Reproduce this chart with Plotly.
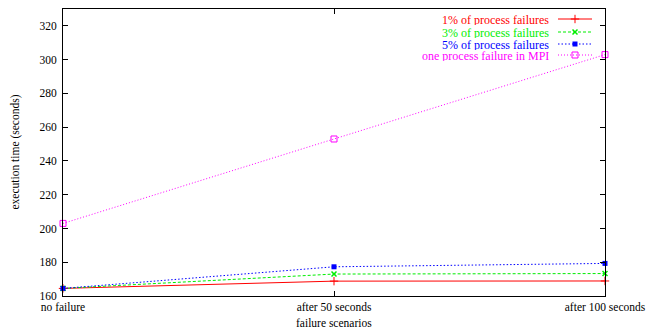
import plotly.graph_objects as go

categories = ["no failure", "after 50 seconds", "after 100 seconds"]
series_names = ["1% of process failures", "3% of process failures",
                "5% of process failures", "one process failure in MPI"]
pct1 = [164.5, 168.8, 168.9]
pct3 = [164.5, 173.0, 173.3]
pct5 = [164.5, 177.3, 179.3]
mpi = [203.0, 253.0, 303.0]
y_ticks = [160, 180, 200, 220, 240, 260, 280, 300, 320]

FONT = "Liberation Serif"
W, H = 647, 333
# plot area in page pixels
L, R, T, B = 63, 605, 9, 296

styles = [
    dict(color="#ff0000", dash="solid", symbol="cross-thin-open", size=6, mlw=1),
    dict(color="#00ee00", dash="3px,2px", symbol="x-thin-open", size=5, mlw=1.5),
    dict(color="#0000ff", dash="1.5px,2px", symbol="square", size=5, mlw=0),
    dict(color="#ff00ff", dash="1px,2px", symbol="square-open", size=6, mlw=1),
]
data = [pct1, pct3, pct5, mpi]

fig = go.Figure()
xidx = list(range(len(categories)))
for name, vals, st in zip(series_names, data, styles):
    fig.add_trace(go.Scatter(
        x=xidx, y=vals, mode="lines+markers", name=name, showlegend=False,
        cliponaxis=False,
        line=dict(color=st["color"], width=1, dash=st["dash"]),
        marker=dict(symbol=st["symbol"], size=st["size"], color=st["color"],
                    line=dict(color=st["color"], width=st["mlw"])),
    ))

# manual legend (gnuplot style: text left of sample)
rows = [19, 32, 44, 55]
for name, st, ry in zip(series_names, styles, rows):
    fig.add_trace(go.Scatter(
        x=[558, 592], y=[ry, ry], xaxis="x2", yaxis="y2", mode="lines",
        showlegend=False, hoverinfo="skip",
        line=dict(color=st["color"], width=1, dash=st["dash"]),
    ))
    fig.add_trace(go.Scatter(
        x=[575], y=[ry], xaxis="x2", yaxis="y2", mode="markers",
        showlegend=False, hoverinfo="skip",
        marker=dict(symbol=st["symbol"], size=st["size"], color=st["color"],
                    line=dict(color=st["color"], width=st["mlw"])),
    ))
    fig.add_annotation(x=551, y=ry, xref="x2", yref="y2", text=name,
                       showarrow=False, xanchor="right", yanchor="middle",
                       height=11, valign="middle",
                       font=dict(family=FONT, size=12, color=st["color"]))


def px(xr):
    return (xr - L) / (R - L)


def py(yr):
    return (B - yr) / (B - T)


fig.add_annotation(x=px((L + R) / 2), y=py(323), xref="paper", yref="paper",
                   text="failure scenarios", showarrow=False,
                   font=dict(family=FONT, size=11.5, color="black"),
                   xanchor="center", yanchor="middle")
fig.add_annotation(x=px(15), y=py((T + B) / 2), xref="paper", yref="paper",
                   text="execution time (seconds)", showarrow=False, textangle=-90,
                   font=dict(family=FONT, size=11.5, color="black"),
                   xanchor="center", yanchor="middle")

fig.update_layout(
    width=W, height=H,
    margin=dict(l=L, r=W - R, t=T, b=H - B, pad=0),
    paper_bgcolor="white", plot_bgcolor="white",
    hovermode=False,
    font=dict(family=FONT, size=11.5, color="black"),
    xaxis=dict(
        tickmode="array", tickvals=xidx, ticktext=categories,
        range=[0, 2], showgrid=False, zeroline=False,
        showline=True, linecolor="black", linewidth=1, mirror="ticks",
        ticks="inside", ticklen=5, tickcolor="black", automargin=False,
        tickfont=dict(family=FONT, size=11.5, color="black"),
    ),
    yaxis=dict(
        range=[160, 330], tickvals=y_ticks, showgrid=False, zeroline=False,
        showline=True, linecolor="black", linewidth=1, mirror="ticks",
        ticks="inside", ticklen=5, tickcolor="black", automargin=False,
        tickfont=dict(family=FONT, size=11.5, color="black"),
        ticklabelstandoff=3,
    ),
    xaxis2=dict(overlaying="x", range=[L, R], visible=False, fixedrange=True),
    yaxis2=dict(overlaying="y", range=[B, T], visible=False, fixedrange=True),
)

fig.write_html(
    "out.html",
    config={"displayModeBar": False, "staticPlot": True},
    post_script="document.body.style.margin='0';document.body.style.overflow='hidden';",
)
